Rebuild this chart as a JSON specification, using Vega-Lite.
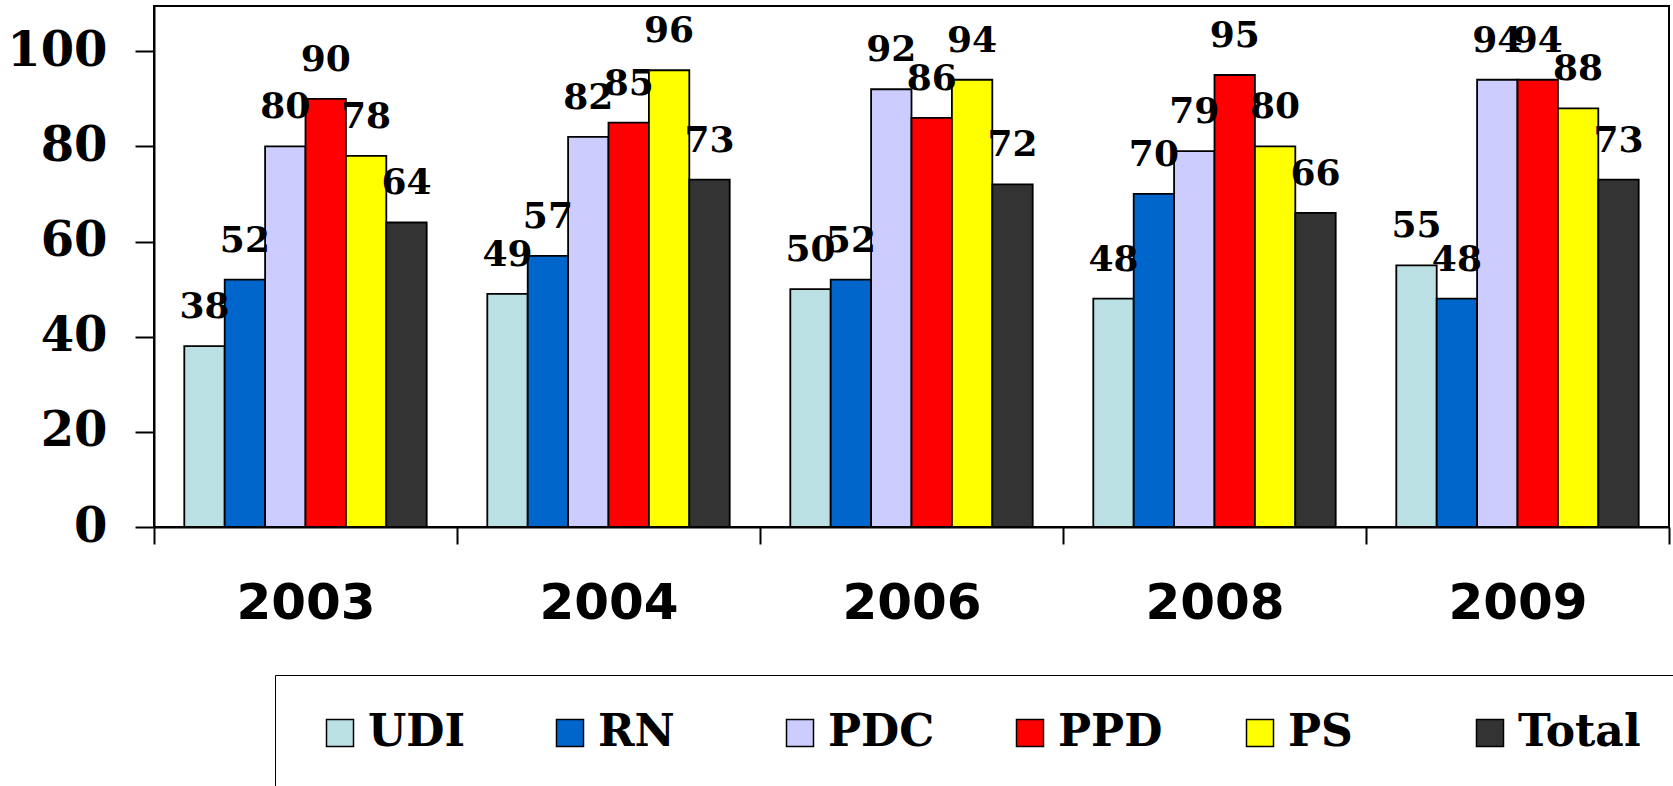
{
  "$schema": "https://vega.github.io/schema/vega-lite/v6.json",
  "width": 1515,
  "height": 521,
  "autosize": {"type": "none"},
  "padding": {"left": 154, "top": 6, "right": 4, "bottom": 259},
  "background": "white",
  "config": {"view": {"stroke": "black", "strokeWidth": 2}},
  "data": {"values": [
    {"year": "2003", "party": "UDI", "value": 38},
    {"year": "2003", "party": "RN", "value": 52},
    {"year": "2003", "party": "PDC", "value": 80},
    {"year": "2003", "party": "PPD", "value": 90},
    {"year": "2003", "party": "PS", "value": 78},
    {"year": "2003", "party": "Total", "value": 64},
    {"year": "2004", "party": "UDI", "value": 49},
    {"year": "2004", "party": "RN", "value": 57},
    {"year": "2004", "party": "PDC", "value": 82},
    {"year": "2004", "party": "PPD", "value": 85},
    {"year": "2004", "party": "PS", "value": 96},
    {"year": "2004", "party": "Total", "value": 73},
    {"year": "2006", "party": "UDI", "value": 50},
    {"year": "2006", "party": "RN", "value": 52},
    {"year": "2006", "party": "PDC", "value": 92},
    {"year": "2006", "party": "PPD", "value": 86},
    {"year": "2006", "party": "PS", "value": 94},
    {"year": "2006", "party": "Total", "value": 72},
    {"year": "2008", "party": "UDI", "value": 48},
    {"year": "2008", "party": "RN", "value": 70},
    {"year": "2008", "party": "PDC", "value": 79},
    {"year": "2008", "party": "PPD", "value": 95},
    {"year": "2008", "party": "PS", "value": 80},
    {"year": "2008", "party": "Total", "value": 66},
    {"year": "2009", "party": "UDI", "value": 55},
    {"year": "2009", "party": "RN", "value": 48},
    {"year": "2009", "party": "PDC", "value": 94},
    {"year": "2009", "party": "PPD", "value": 94},
    {"year": "2009", "party": "PS", "value": 88},
    {"year": "2009", "party": "Total", "value": 73}
  ]},
  "encoding": {
    "x": {
      "field": "year", "type": "nominal",
      "scale": {"paddingInner": 0, "paddingOuter": 0},
      "axis": {
        "title": null, "labelAngle": 0,
        "labelFont": "DejaVu Sans", "labelFontWeight": "bold", "labelFontSize": 50, "labelColor": "black",
        "tickBand": "extent", "tickSize": 17, "tickWidth": 2, "tickColor": "black",
        "domainColor": "black", "domainWidth": 2, "labelPadding": 34
      }
    },
    "xOffset": {
      "field": "party", "type": "nominal",
      "sort": ["UDI", "RN", "PDC", "PPD", "PS", "Total"],
      "scale": {"paddingInner": 0, "paddingOuter": 0.75}
    },
    "y": {
      "field": "value", "type": "quantitative",
      "scale": {"domain": [0, 109.5], "nice": false},
      "axis": {
        "title": null, "grid": false, "values": [0, 20, 40, 60, 80, 100],
        "labelFont": "DejaVu Serif", "labelFontWeight": "bold", "labelFontSize": 48, "labelColor": "black",
        "tickSize": 19, "tickWidth": 2, "tickColor": "black",
        "domainColor": "black", "domainWidth": 2, "labelPadding": 28
      }
    }
  },
  "layer": [
    {
      "mark": {"type": "bar", "stroke": "black", "strokeWidth": 1.8, "opacity": 1},
      "encoding": {
        "color": {
          "field": "party", "type": "nominal",
          "scale": {
            "domain": ["UDI", "RN", "PDC", "PPD", "PS", "Total"],
            "range": ["#BBE0E3", "#0066CC", "#CCCCFF", "#FF0000", "#FFFF00", "#333333"]
          },
          "legend": {
            "orient": "none", "legendX": 121, "legendY": 669,
            "direction": "horizontal", "columns": 6, "gridAlign": "all", "columnPadding": 57,
            "padding": 36, "strokeColor": "black", "fillColor": "white",
            "symbolType": "square", "symbolSize": 729, "symbolStrokeColor": "black", "symbolStrokeWidth": 1.5,
            "symbolOpacity": 1,
            "labelFont": "DejaVu Serif", "labelFontWeight": "bold", "labelFontSize": 44, "labelColor": "black",
            "labelOffset": 6, "labelLimit": 0,
            "title": " ", "titleOrient": "left", "titleFontSize": 1, "titlePadding": 7
          }
        }
      }
    },
    {
      "mark": {
        "type": "text", "baseline": "alphabetic", "align": "center", "dy": -28,
        "font": "DejaVu Serif", "fontWeight": "bold", "fontSize": 36, "color": "black"
      },
      "encoding": {"text": {"field": "value", "type": "quantitative"}}
    }
  ]
}
